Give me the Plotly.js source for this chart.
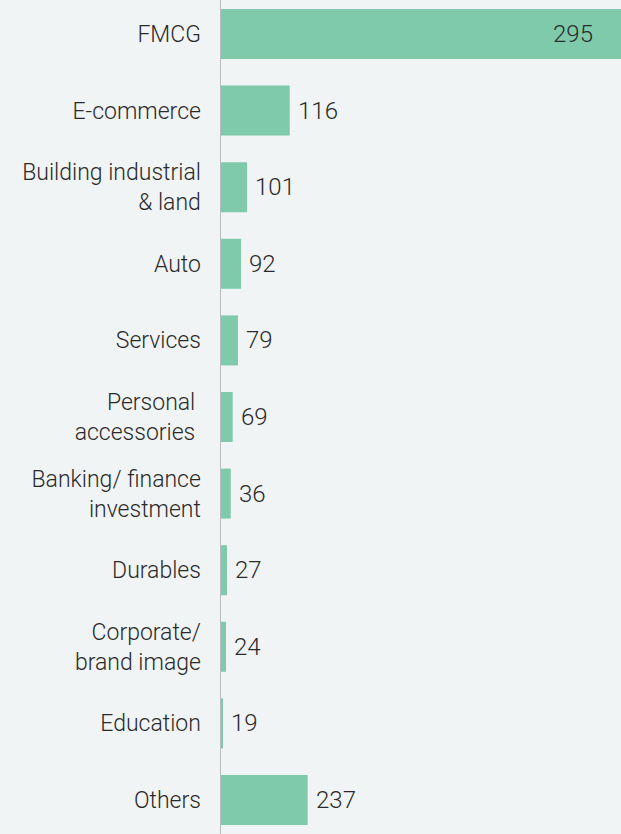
<!DOCTYPE html>
<html>
<head>
<meta charset="utf-8">
<script src="https://cdn.plot.ly/plotly-3.0.1.min.js"></script>
<style>
  html, body { margin: 0; padding: 0; background: #f1f4f5; }
  #chart { width: 621px; height: 834px; }
</style>
</head>
<body>
<div id="chart"></div>
<script>
// Categories (top to bottom)
const categories = [
  'FMCG',
  'E-commerce',
  'Building industrial<br>& land',
  'Auto',
  'Services',
  'Personal\u00a0<br>accessories\u00a0',
  'Banking/ finance<br>investment',
  'Durables',
  'Corporate/<br>brand image',
  'Education',
  'Others'
];
// Values printed as labels
const values = [295, 116, 101, 92, 79, 69, 36, 27, 24, 19, 237];
// Bar lengths as drawn in the original graphic (not proportional to labels),
// read off the picture on a scale where the FMCG bar = 295
const drawnLength = [295, 50.7, 19.2, 14.75, 12.5, 8.6, 7.2, 4.4, 3.7, 1.5, 63.9];

const barColor = '#7ecaab';
const textColor = '#2a2a2a';
const fontFamily = 'Roboto, "Noto Sans", sans-serif';

const maxVal = Math.max(...values);

const trace = {
  type: 'bar',
  orientation: 'h',
  x: drawnLength,
  y: categories,
  marker: { color: barColor, line: { width: 0 } },
  hoverinfo: 'skip',
  cliponaxis: false
};

const annotations = values.map((v, i) => {
  const inside = v === maxVal;
  return {
    x: drawnLength[i],
    y: categories[i],
    xref: 'x',
    yref: 'y',
    text: String(v),
    showarrow: false,
    xanchor: inside ? 'right' : 'left',
    yanchor: 'middle',
    xshift: inside ? -26 : 6,
    font: { family: fontFamily, size: 24, color: textColor, weight: 300 }
  };
});

const layout = {
  width: 621,
  height: 834,
  margin: { l: 221, r: 0, t: 0, b: 0, pad: 0 },
  paper_bgcolor: '#f1f4f5',
  plot_bgcolor: '#f1f4f5',
  showlegend: false,
  bargap: 0.347,
  font: { family: fontFamily, size: 23, color: textColor, weight: 300 },
  xaxis: {
    range: [0, 295],
    visible: false,
    fixedrange: true
  },
  yaxis: {
    type: 'category',
    range: [10.444, -0.444],
    showline: true,
    linecolor: '#b8bcc0',
    linewidth: 1.5,
    showgrid: false,
    zeroline: false,
    ticks: '',
    ticklabelstandoff: 14,
    tickfont: { family: fontFamily, size: 23, color: textColor, weight: 300 },
    fixedrange: true
  },
  annotations: annotations
};

Plotly.newPlot('chart', [trace], layout, { displayModeBar: false, staticPlot: true });
</script>
</body>
</html>
